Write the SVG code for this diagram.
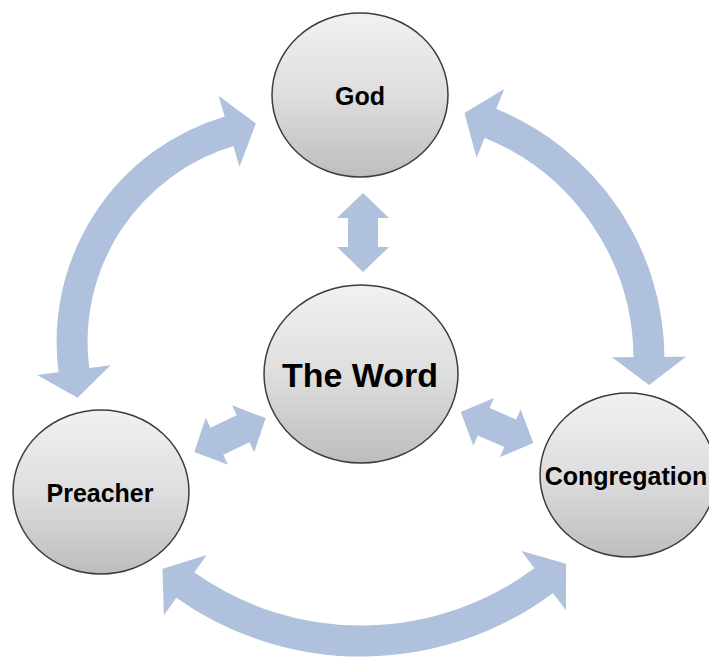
<svg xmlns="http://www.w3.org/2000/svg" width="709" height="659" viewBox="0 0 709 659">
<style>
.node{fill:url(#g);stroke:#3c3c3c;stroke-width:1.5}
.lbl{font-family:"Liberation Sans",Arial,sans-serif;font-weight:bold;fill:#000;text-anchor:middle}
.arc{fill:none;stroke:#afc1dc;stroke-width:31;marker-start:url(#h);marker-end:url(#h)}
.dbl{fill:#afc1dc}
</style>
<defs>
<linearGradient id="g" x1="0" y1="0" x2="0" y2="1">
<stop offset="0" stop-color="#f1f1f1"/>
<stop offset="0.5" stop-color="#dedede"/>
<stop offset="1" stop-color="#bdbdbd"/>
</linearGradient>
<marker id="h" markerUnits="userSpaceOnUse" orient="auto-start-reverse" refX="0" refY="0" markerWidth="80" markerHeight="80" overflow="visible">
<path d="M-1,-37 L27,0 L-1,37 Z" fill="#afc1dc"/>
</marker>
<path id="da" d="M-39.5,0 L-14.5,-26 L-14.5,-15 L14.5,-15 L14.5,-26 L39.5,0 L14.5,26 L14.5,15 L-14.5,15 L-14.5,26 Z"/>
</defs>
<g id="connectors">
<path class="arc" d="M230,131 A220,220 0 0 0 74,371"/>
<path class="arc" d="M489.5,123 A254.5,254.5 0 0 1 649,358"/>
<path class="arc" d="M184.5,584.5 A305,305 0 0 0 544.5,580"/>
<use href="#da" class="dbl" transform="translate(363,232.5) rotate(90)"/>
<use href="#da" class="dbl" transform="translate(230,435) rotate(-25.3)"/>
<use href="#da" class="dbl" transform="translate(497,427.5) rotate(23.3)"/>
</g>
<g id="god">
<ellipse class="node" cx="360" cy="95" rx="88" ry="82"/>
<text class="lbl" x="360" y="105" font-size="25">God</text>
</g>
<g id="word">
<ellipse class="node" cx="361" cy="374" rx="97" ry="89"/>
<text class="lbl" x="360" y="387" font-size="34">The Word</text>
</g>
<g id="preacher">
<ellipse class="node" cx="101" cy="492" rx="88" ry="82"/>
<text class="lbl" x="100" y="502" font-size="25">Preacher</text>
</g>
<g id="congregation">
<ellipse class="node" cx="628" cy="475" rx="88" ry="82"/>
<text class="lbl" x="626" y="485" font-size="25">Congregation</text>
</g>
</svg>
